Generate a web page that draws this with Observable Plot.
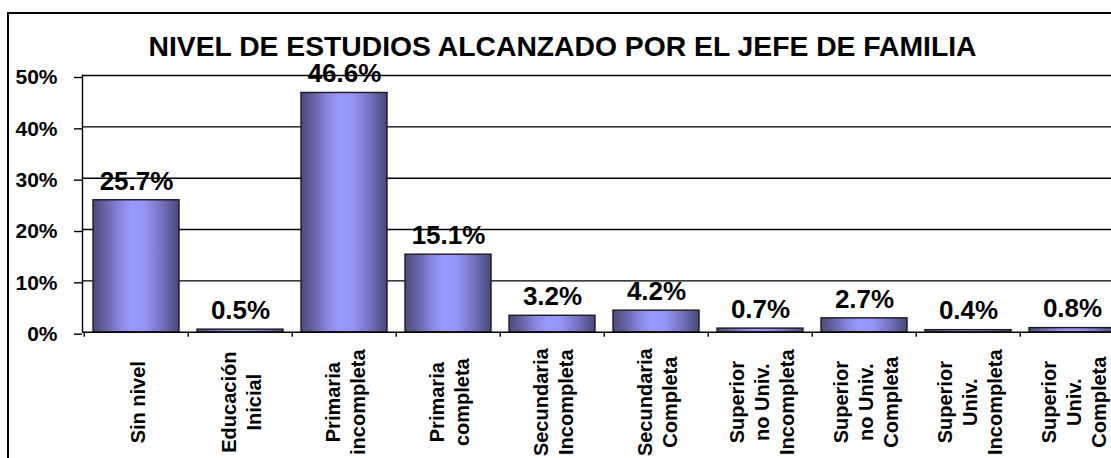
<!DOCTYPE html>
<html>
<head>
<meta charset="utf-8">
<script src="https://cdn.jsdelivr.net/npm/d3@7"></script>
<script src="https://cdn.jsdelivr.net/npm/@observablehq/plot@0.6"></script>
<style>
  html, body { margin: 0; padding: 0; overflow: hidden; background: #fff; width: 1111px; height: 458px; }
  #wrap { position: relative; width: 1111px; height: 458px; overflow: hidden; }
  #chart { position: absolute; left: 0; top: 0; width: 1140px; }
  #chart svg { max-width: none !important; }
  #box { position: absolute; left: 7px; top: 12px; width: 1300px; height: 1000px;
         border-left: 2px solid #000; border-top: 2px solid #000; pointer-events: none; }
  #title { position: absolute; left: 8px; width: 1109px; top: 37px; height: 18px; text-align: center;
           font: bold 28.3px "Liberation Sans", Arial, sans-serif; line-height: 18px; color: #000; white-space: nowrap; }
</style>
</head>
<body>
<div id="wrap">
  <div id="chart"></div>
  <div id="box"></div>
  <div id="title">NIVEL DE ESTUDIOS ALCANZADO POR EL JEFE DE FAMILIA</div>
</div>
<script>
const categories = [
  "Sin nivel",
  "Educación\nInicial",
  "Primaria\nincompleta",
  "Primaria\ncompleta",
  "Secundaria\nIncompleta",
  "Secundaria\nCompleta",
  "Superior\nno Univ.\nIncompleta",
  "Superior\nno Univ.\nCompleta",
  "Superior\nUniv.\nIncompleta",
  "Superior\nUniv.\nCompleta"
];
const values = [25.7, 0.5, 46.6, 15.1, 3.2, 4.2, 0.7, 2.7, 0.4, 0.8];
const yTicks = [0, 10, 20, 30, 40, 50];

const data = categories.map((c, i) => ({category: c, value: values[i]}));

const W = 1140, H = 470;
const mLeft = 82, mRight = 13.6, mTop = 75, mBottom = 138.3;
const step = (W - mLeft - mRight) / categories.length;
const font = "Liberation Sans, Arial, sans-serif";

const svg = Plot.plot({
  width: W,
  height: H,
  marginLeft: mLeft,
  marginRight: mRight,
  marginTop: mTop,
  marginBottom: mBottom,
  style: {fontFamily: font, background: "transparent", color: "#000", overflow: "visible", maxWidth: "none"},
  x: {domain: categories, paddingInner: 0.17, paddingOuter: 0.085, label: null, axis: null},
  y: {domain: [0, 50], label: null, axis: null},
  marks: [
    Plot.gridY(yTicks, {stroke: "#000", strokeOpacity: 1, strokeWidth: 1.4}),
    Plot.axisY(yTicks, {
      tickSize: 8, tickPadding: 17, tickFormat: d => d + "%",
      fontSize: 21, fontWeight: "bold", dy: 2, strokeWidth: 1.4
    }),
    Plot.axisX({tickSize: 5, tickFormat: () => "", dx: -step / 2, strokeWidth: 1.4, label: null}),
    Plot.frame({anchor: "left", stroke: "#000", strokeWidth: 1.4}),
    Plot.barY(data, {x: "category", y: "value", fill: "url(#barGrad)", stroke: "#1a1a1a", strokeWidth: 1.4}),
    Plot.text(data, {
      x: "category", y: "value", text: d => d.value.toFixed(1) + "%",
      dy: -19, fontSize: 26, fontWeight: "bold", fill: "#000"
    }),
    Plot.text(categories, {
      x: d => d, text: d => d, frameAnchor: "bottom", rotate: -90, dy: 70,
      textAnchor: "middle", lineAnchor: "middle",
      fontSize: 20, fontWeight: "bold", lineHeight: 1.25, fill: "#000"
    })
  ]
});
svg.style.maxWidth = "none";

const defs = d3.select(svg).insert("defs", ":first-child");
const grad = defs.append("linearGradient").attr("id", "barGrad")
  .attr("x1", "0%").attr("x2", "100%").attr("y1", "0%").attr("y2", "0%");
[
  [0, "#4a4a7c"], [0.12, "#60609e"], [0.3, "#8585dd"], [0.45, "#9999ff"],
  [0.6, "#9494f6"], [0.8, "#7373be"], [1, "#48487a"]
].forEach(([o, c]) => grad.append("stop").attr("offset", o).attr("stop-color", c));

document.getElementById("chart").appendChild(svg);
</script>
</body>
</html>
